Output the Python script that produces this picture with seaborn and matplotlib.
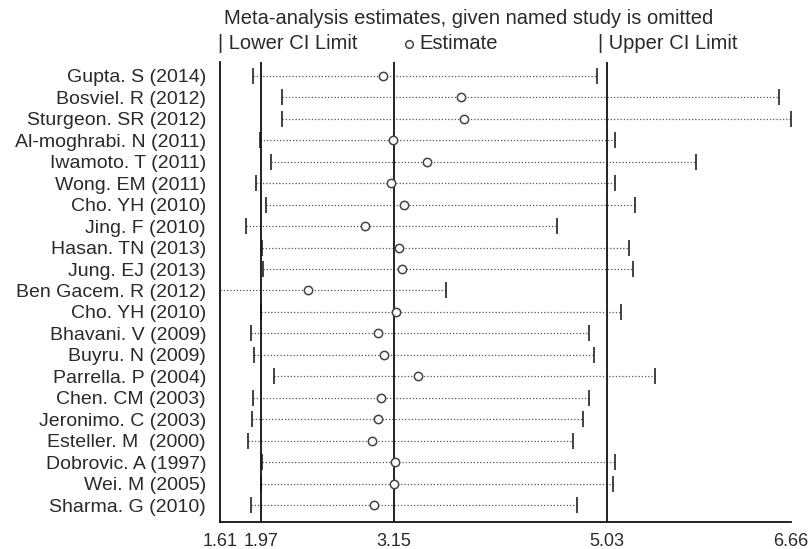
import numpy as np
import matplotlib
matplotlib.use("Agg")
import matplotlib.pyplot as plt
import seaborn as sns

# Sensitivity analysis: estimate and CI when each study is omitted
studies = [
    "Gupta. S (2014)", "Bosviel. R (2012)", "Sturgeon. SR (2012)",
    "Al-moghrabi. N (2011)", "Iwamoto. T (2011)", "Wong. EM (2011)",
    "Cho. YH (2010)", "Jing. F (2010)", "Hasan. TN (2013)", "Jung. EJ (2013)",
    "Ben Gacem. R (2012)", "Cho. YH (2010)", "Bhavani. V (2009)",
    "Buyru. N (2009)", "Parrella. P (2004)", "Chen. CM (2003)",
    "Jeronimo. C (2003)", "Esteller. M  (2000)", "Dobrovic. A (1997)",
    "Wei. M (2005)", "Sharma. G (2010)",
]
estimate = [3.05, 3.74, 3.77, 3.14, 3.44, 3.12, 3.24, 2.89, 3.19, 3.22,
            2.39, 3.17, 3.01, 3.06, 3.36, 3.03, 3.01, 2.95, 3.16, 3.15, 2.97]
lower = [1.90, 2.16, 2.16, 1.96, 2.06, 1.93, 2.02, 1.84, 1.98, 1.99,
         1.61, 1.97, 1.88, 1.91, 2.09, 1.90, 1.89, 1.86, 1.98, 1.97, 1.88]
upper = [4.94, 6.55, 6.66, 5.10, 5.82, 5.10, 5.28, 4.59, 5.23, 5.26,
         3.61, 5.16, 4.87, 4.92, 5.46, 4.87, 4.82, 4.73, 5.10, 5.09, 4.77]
ref_lines = [1.97, 3.15, 5.03]
xticks = [1.61, 1.97, 3.15, 5.03, 6.66]

sns.set_style("white")
plt.rcParams["font.family"] = ["Liberation Sans", "DejaVu Sans"]

W, H = 811, 549
TXT = "#2a2a2a"
fig = plt.figure(figsize=(W / 100, H / 100), dpi=100)
ax = fig.add_axes([220 / W, 1 - 522 / H, 571 / W, 460 / H])

rows = np.arange(len(studies))

# dotted CI lines
ax.hlines(rows, lower, upper, colors="#555555", linestyles=(0, (1, 1.6)),
          linewidth=0.9, zorder=2)
# CI end ticks
ax.plot(lower, rows, linestyle="none", marker="|", markersize=12,
        markeredgewidth=1.2, color="#222222", zorder=3)
ax.plot(upper, rows, linestyle="none", marker="|", markersize=12,
        markeredgewidth=1.2, color="#222222", zorder=3)

for v in ref_lines:
    ax.axvline(v, color="#111111", linewidth=1.3, zorder=4)

sns.scatterplot(x=estimate, y=rows, ax=ax, marker="o", s=36,
                facecolor="white", edgecolor="#444444", linewidth=1.1,
                zorder=5, legend=False)

ax.set_xlim(1.61, 6.66)
ax.set_ylim(20.79, -0.65)
ax.set_xticks(xticks)
ax.set_xticklabels([f"{t:.2f}" for t in xticks], fontsize=13, color=TXT)
ax.set_yticks(rows)
ax.set_yticklabels(studies, fontsize=14, color=TXT)
ax.tick_params(axis="y", length=0, pad=10)
ax.tick_params(axis="x", direction="out", length=5, width=1.3, pad=3)

for s in ["top", "right"]:
    ax.spines[s].set_visible(False)
for s in ["left", "bottom"]:
    ax.spines[s].set_linewidth(1.3)
    ax.spines[s].set_color("#111111")
ax.set_xlabel("")
ax.set_ylabel("")

fig.text(224 / W, 1 - 19 / H,
         "Meta-analysis estimates, given named study is omitted",
         fontsize=14.5, va="center", ha="left", color=TXT)
fig.text(218 / W, 1 - 44 / H, "| Lower CI Limit", fontsize=14.5,
         va="center", ha="left", color=TXT)
fig.add_artist(plt.Line2D([409 / W], [1 - 44 / H], marker="o", markersize=5.5,
                          markerfacecolor="white", markeredgecolor="#444444",
                          markeredgewidth=1.1, linestyle="none",
                          transform=fig.transFigure))
fig.text(419 / W, 1 - 44 / H, "Estimate", fontsize=14.5,
         va="center", ha="left", color=TXT)
fig.text(598 / W, 1 - 44 / H, "| Upper CI Limit", fontsize=14.5,
         va="center", ha="left", color=TXT)

fig.savefig("out.png", dpi=100)
